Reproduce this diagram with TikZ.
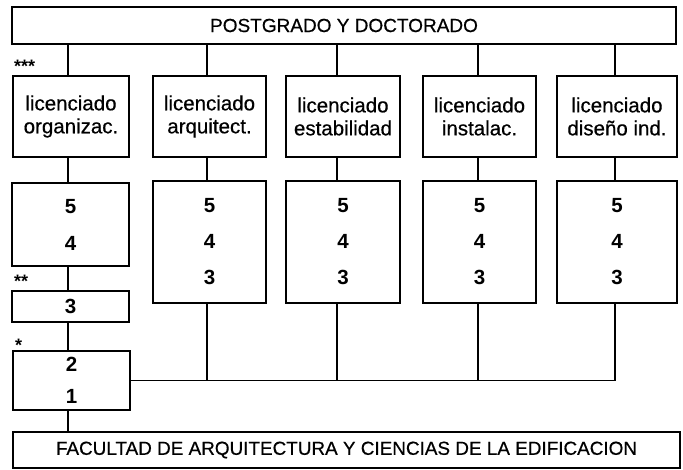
\documentclass[tikz,border=0pt]{standalone}
\usepackage{fontspec}
\setmainfont{Liberation Sans}
\newfontfamily\medfont{Liberation Sans}[FakeBold=0.5]
\begin{document}
\begin{tikzpicture}[x=1pt,y=-1pt,
  box/.style={draw,line width=1.7pt,inner sep=0pt,align=center},
  conn/.style={line width=1.7pt,line join=miter},
  titlebox/.style={box,font=\medfont\fontsize{19}{22}\selectfont},
  licbox/.style={box,font=\medfont\fontsize{20.5}{23}\selectfont,minimum height=81pt},
  numbox/.style={box,font=\bfseries\fontsize{20.5}{36}\selectfont},
  stars/.style={inner sep=0pt,font=\bfseries\fontsize{18}{18}\selectfont,anchor=base west}
]
\useasboundingbox (0,0) rectangle (683,470);

% top and bottom bands
\node[titlebox,minimum width=664pt,minimum height=37pt] (top) at (344,25.5) {POSTGRADO Y DOCTORADO};
\node[titlebox,font=\medfont\fontsize{18.9}{22}\selectfont,minimum width=667pt,minimum height=36pt] (bot) at (346.5,450) {FACULTAD DE ARQUITECTURA Y CIENCIAS DE LA EDIFICACION};

% licenciado boxes
\node[licbox,minimum width=116pt] (lic1) at (71,116.5) {licenciado\\organizac.};
\node[licbox,minimum width=113pt] (lic2) at (209.5,116.5) {licenciado\\arquitect.};
\node[licbox,minimum width=114pt] (lic3) at (343,116.5) {licenciado\\estabilidad};
\node[licbox,minimum width=113pt] (lic4) at (479.5,116.5) {licenciado\\instalac.};
\node[licbox,minimum width=120pt] (lic5) at (617,116.5) {licenciado\\diseño ind.};

% year boxes
\node[numbox,minimum width=117pt,minimum height=83pt] (num1) at (70.5,224.5) {5\\[1pt]4};
\node[numbox,minimum width=113pt,minimum height=122pt] (num2) at (209.5,242) {5\\4\\3};
\node[numbox,minimum width=114pt,minimum height=122pt] (num3) at (343,242) {5\\4\\3};
\node[numbox,minimum width=113pt,minimum height=122pt] (num4) at (479.5,242) {5\\4\\3};
\node[numbox,minimum width=120pt,minimum height=122pt] (num5) at (617,242) {5\\4\\3};

\node[numbox,minimum width=117pt,minimum height=31pt] (b3) at (70.5,306.5) {3};
\node[numbox,font=\bfseries\fontsize{20.5}{32}\selectfont,minimum width=117pt,minimum height=59pt] (b21) at (71.5,380.5) {2\\1};

% asterisks
\node[stars] (s3) at (14,73) {***};
\node[stars] (s2) at (14,288) {**};
\node[stars] (s1) at (15,352) {*};

% column line positions
\coordinate (x1) at (68,0);
\coordinate (x2) at (207,0);
\coordinate (x3) at (337,0);
\coordinate (x4) at (478,0);
\coordinate (x5) at (615,0);

% connectors top -> licenciado -> years
\foreach \i in {1,...,5}{
  \draw[conn] (top.south -| x\i) -- (lic\i.north -| x\i);
  \draw[conn] (lic\i.south -| x\i) -- (num\i.north -| x\i);
}
% left column chain
\draw[conn] (num1.south -| x1) -- (b3.north -| x1);
\draw[conn] (b3.south -| x1) -- (b21.north -| x1);
\draw[conn] (b21.south -| x1) -- (bot.north -| x1);
% common bus
\draw[conn] (b21.east) -- (b21.east -| x5) -- (num5.south -| x5);
\foreach \i in {2,3,4}{
  \draw[conn] (num\i.south -| x\i) -- (b21.east -| x\i);
}
\end{tikzpicture}
\end{document}
